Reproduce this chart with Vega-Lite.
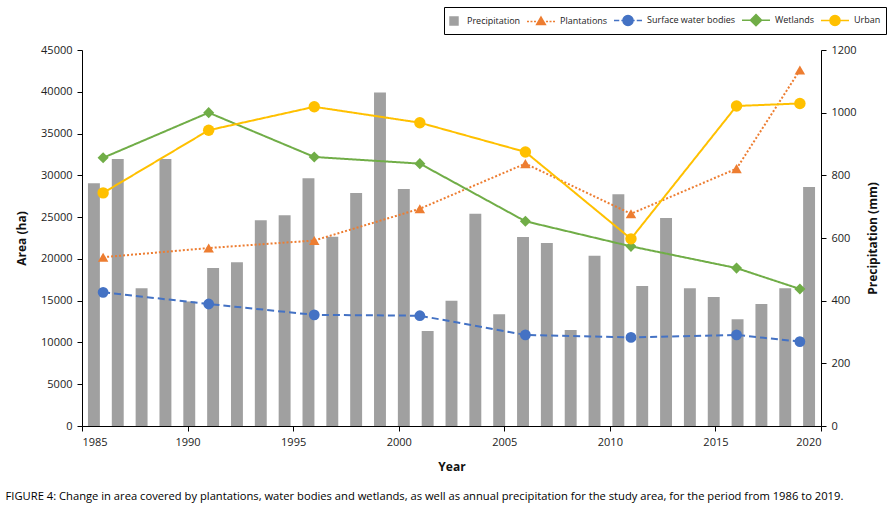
{
  "$schema": "https://vega.github.io/schema/vega-lite/v6.json",
  "width": 739,
  "height": 376,
  "autosize": {"type": "none"},
  "padding": {"left": 82, "top": 50, "right": 72, "bottom": 86},
  "background": "white",
  "config": {
    "view": {"stroke": null},
    "font": "Open Sans",
    "axis": {
      "labelFont": "Open Sans",
      "labelFontSize": 11,
      "labelColor": "#222222",
      "titleFont": "Open Sans",
      "titleFontSize": 12,
      "titleFontWeight": "bold",
      "titleColor": "#111111",
      "domainColor": "#000000",
      "tickColor": "#000000",
      "grid": false,
      "tickSize": 5,
      "labelPadding": 5
    }
  },
  "title": {
    "text": "FIGURE 4: Change in area covered by plantations, water bodies and wetlands, as well as annual precipitation for the study area, for the period from 1986 to 2019.",
    "orient": "bottom",
    "anchor": "start",
    "frame": "bounds",
    "font": "Open Sans",
    "fontSize": 11.2,
    "fontWeight": "normal",
    "color": "#000000",
    "offset": 19,
    "dx": -10
  },
  "layer": [
    {
      "data": {
        "values": [
          {"idx": 1, "precip": 775, "series": "Precipitation"},
          {"idx": 2, "precip": 852, "series": "Precipitation"},
          {"idx": 3, "precip": 440, "series": "Precipitation"},
          {"idx": 4, "precip": 852, "series": "Precipitation"},
          {"idx": 5, "precip": 397, "series": "Precipitation"},
          {"idx": 6, "precip": 504, "series": "Precipitation"},
          {"idx": 7, "precip": 523, "series": "Precipitation"},
          {"idx": 8, "precip": 657, "series": "Precipitation"},
          {"idx": 9, "precip": 673, "series": "Precipitation"},
          {"idx": 10, "precip": 791, "series": "Precipitation"},
          {"idx": 11, "precip": 604, "series": "Precipitation"},
          {"idx": 12, "precip": 744, "series": "Precipitation"},
          {"idx": 13, "precip": 1064, "series": "Precipitation"},
          {"idx": 14, "precip": 756, "series": "Precipitation"},
          {"idx": 15, "precip": 303, "series": "Precipitation"},
          {"idx": 16, "precip": 400, "series": "Precipitation"},
          {"idx": 17, "precip": 677, "series": "Precipitation"},
          {"idx": 18, "precip": 357, "series": "Precipitation"},
          {"idx": 19, "precip": 603, "series": "Precipitation"},
          {"idx": 20, "precip": 584, "series": "Precipitation"},
          {"idx": 21, "precip": 306, "series": "Precipitation"},
          {"idx": 22, "precip": 543, "series": "Precipitation"},
          {"idx": 23, "precip": 740, "series": "Precipitation"},
          {"idx": 24, "precip": 447, "series": "Precipitation"},
          {"idx": 25, "precip": 664, "series": "Precipitation"},
          {"idx": 26, "precip": 440, "series": "Precipitation"},
          {"idx": 27, "precip": 412, "series": "Precipitation"},
          {"idx": 28, "precip": 341, "series": "Precipitation"},
          {"idx": 29, "precip": 389, "series": "Precipitation"},
          {"idx": 30, "precip": 440, "series": "Precipitation"},
          {"idx": 31, "precip": 763, "series": "Precipitation"}
        ]
      },
      "mark": {"type": "bar"},
      "encoding": {
        "x": {"field": "idx", "type": "ordinal", "scale": {"paddingInner": 0.5, "paddingOuter": 0.25}, "axis": null},
        "y": {
          "field": "precip",
          "type": "quantitative",
          "scale": {"domain": [0, 1200], "nice": false},
          "axis": {
            "orient": "right",
            "title": "Precipitation (mm)",
            "values": [0, 200, 400, 600, 800, 1000, 1200],
            "format": "d",
            "titleAngle": 270,
            "titlePadding": 23
          }
        },
        "color": {
          "field": "series",
          "type": "nominal",
          "scale": {
            "domain": ["Precipitation", "Plantations", "Surface water bodies", "Wetlands", "Urban"],
            "range": ["#A0A0A0", "#ED7D31", "#4472C4", "#70AD47", "#FFC000"]
          }
        }
      }
    },
    {
      "data": {
        "values": [
          {"year": 1986, "series": "Plantations", "area": 20200},
          {"year": 1991, "series": "Plantations", "area": 21300},
          {"year": 1996, "series": "Plantations", "area": 22200},
          {"year": 2001, "series": "Plantations", "area": 26000},
          {"year": 2006, "series": "Plantations", "area": 31400},
          {"year": 2011, "series": "Plantations", "area": 25400},
          {"year": 2016, "series": "Plantations", "area": 30800},
          {"year": 2019, "series": "Plantations", "area": 42600},
          {"year": 1986, "series": "Surface water bodies", "area": 16000},
          {"year": 1991, "series": "Surface water bodies", "area": 14600},
          {"year": 1996, "series": "Surface water bodies", "area": 13300},
          {"year": 2001, "series": "Surface water bodies", "area": 13200},
          {"year": 2006, "series": "Surface water bodies", "area": 10900},
          {"year": 2011, "series": "Surface water bodies", "area": 10600},
          {"year": 2016, "series": "Surface water bodies", "area": 10900},
          {"year": 2019, "series": "Surface water bodies", "area": 10100},
          {"year": 1986, "series": "Wetlands", "area": 32100},
          {"year": 1991, "series": "Wetlands", "area": 37500},
          {"year": 1996, "series": "Wetlands", "area": 32200},
          {"year": 2001, "series": "Wetlands", "area": 31400},
          {"year": 2006, "series": "Wetlands", "area": 24500},
          {"year": 2011, "series": "Wetlands", "area": 21500},
          {"year": 2016, "series": "Wetlands", "area": 18900},
          {"year": 2019, "series": "Wetlands", "area": 16400},
          {"year": 1986, "series": "Urban", "area": 27900},
          {"year": 1991, "series": "Urban", "area": 35400},
          {"year": 1996, "series": "Urban", "area": 38200},
          {"year": 2001, "series": "Urban", "area": 36300},
          {"year": 2006, "series": "Urban", "area": 32800},
          {"year": 2011, "series": "Urban", "area": 22400},
          {"year": 2016, "series": "Urban", "area": 38300},
          {"year": 2019, "series": "Urban", "area": 38600}
        ]
      },
      "encoding": {
        "x": {
          "field": "year",
          "type": "quantitative",
          "scale": {"domain": [1985, 2020], "nice": false, "zero": false},
          "axis": {
            "title": "Year",
            "values": [1985, 1990, 1995, 2000, 2005, 2010, 2015, 2020],
            "format": "d",
            "titlePadding": 14
          }
        },
        "y": {
          "field": "area",
          "type": "quantitative",
          "scale": {"domain": [0, 45000], "nice": false},
          "axis": {
            "orient": "left",
            "title": "Area (ha)",
            "values": [0, 5000, 10000, 15000, 20000, 25000, 30000, 35000, 40000, 45000],
            "format": "d",
            "titlePadding": 12
          }
        }
      },
      "layer": [
        {
          "mark": {"type": "line", "strokeWidth": 2},
          "encoding": {
            "color": {
              "field": "series",
              "type": "nominal",
              "scale": {
                "domain": ["Precipitation", "Plantations", "Surface water bodies", "Wetlands", "Urban"],
                "range": ["#A0A0A0", "#ED7D31", "#4472C4", "#70AD47", "#FFC000"]
              }
            },
            "strokeDash": {
              "field": "series",
              "type": "nominal",
              "scale": {
                "domain": ["Plantations", "Surface water bodies", "Wetlands", "Urban"],
                "range": [[2, 2], [7, 4], [1, 0], [1, 0]]
              },
              "legend": null
            }
          }
        },
        {
          "mark": {"type": "point", "filled": true, "opacity": 1},
          "encoding": {
            "shape": {
              "field": "series",
              "type": "nominal",
              "scale": {
                "domain": ["Plantations", "Surface water bodies", "Wetlands", "Urban"],
                "range": ["triangle-up", "circle", "diamond", "circle"]
              },
              "legend": null
            },
            "size": {
              "field": "series",
              "type": "ordinal",
              "scale": {
                "domain": ["Plantations", "Surface water bodies", "Wetlands", "Urban"],
                "range": [110, 130, 150, 130]
              },
              "legend": null
            },
            "color": {
              "field": "series",
              "type": "nominal",
              "scale": {
                "domain": ["Precipitation", "Plantations", "Surface water bodies", "Wetlands", "Urban"],
                "range": ["#A0A0A0", "#ED7D31", "#4472C4", "#70AD47", "#FFC000"]
              },
              "legend": {
                "title": null,
                "orient": "none",
                "legendX": 362,
                "legendY": -43,
                "direction": "horizontal",
                "strokeColor": "#000000",
                "padding": 5,
                "cornerRadius": 0,
                "symbolSize": 196,
                "symbolStrokeWidth": 1.5,
                "labelFont": "Open Sans",
                "labelFontSize": 9,
                "labelColor": "#222222",
                "labelOffset": 18,
                "columnPadding": 3,
                "encoding": {
                  "symbols": {
                    "shape": {"value": {"expr": "datum.value === 'Precipitation' ? 'M-1,-0.57H0.14V0.57H-1Z' : datum.value === 'Plantations' ? 'M-1,0H-0.72M-0.5,0H-0.22M0,0H0.28M1.72,0H2M2.22,0H2.5M2.72,0H3M1,-0.62L1.62,0.46H0.38Z' : datum.value === 'Surface water bodies' ? 'M-1,0H-0.25M0.05,0H0.3M1.7,0H1.95M2.25,0H3M1.72,0A0.72,0.72 0 1 1 0.28,0A0.72,0.72 0 1 1 1.72,0Z' : datum.value === 'Wetlands' ? 'M-1,0H3M1,-0.8L1.8,0L1,0.8L0.2,0Z' : 'M-1,0H3M1.72,0A0.72,0.72 0 1 1 0.28,0A0.72,0.72 0 1 1 1.72,0Z'"}},
                    "stroke": {"value": {"expr": "scale('color', datum.value)"}},
                    "strokeWidth": {"value": 1.5}
                  },
                  "labels": {
                    "dx": {"value": {"expr": "datum.value === 'Precipitation' ? -16 : 0"}}
                  }
                }
              }
            }
          }
        }
      ]
    }
  ],
  "resolve": {"scale": {"x": "independent", "y": "independent"}}
}
